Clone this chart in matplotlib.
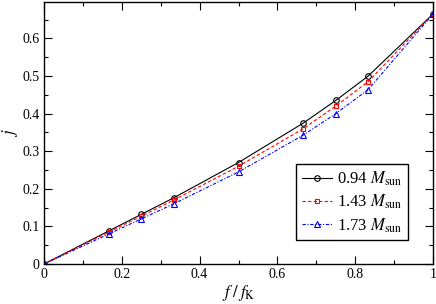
import matplotlib
matplotlib.use("Agg")
import matplotlib.pyplot as plt
from matplotlib.ticker import MultipleLocator, FuncFormatter

plt.rcParams['font.family'] = ['Liberation Serif', 'DejaVu Serif']
plt.rcParams['mathtext.fontset'] = 'stix'

x = [0, 1/6, 0.25, 1/3, 0.5, 2/3, 0.75, 5/6, 1.0]
j_094 = [0, 0.088, 0.132, 0.176, 0.270, 0.375, 0.435, 0.500, 0.665]
j_143 = [0, 0.085, 0.127, 0.170, 0.260, 0.360, 0.420, 0.485, 0.665]
j_173 = [0, 0.080, 0.120, 0.160, 0.245, 0.343, 0.400, 0.464, 0.665]
labels = ['0.94 $M_{\\rm sun}$', '1.43 $M_{\\rm sun}$', '1.73 $M_{\\rm sun}$']

fig = plt.figure(figsize=(4.36, 3.04), dpi=100)
ax = fig.add_axes([44/436, 1-264/304, 389/436, 262/304])

ax.plot(x, j_094, '-', color='black', lw=0.8, marker='o', ms=4, mfc='none', mec='black', mew=0.8, label=labels[0])
ax.plot(x, j_143, '--', color='#ff0000', lw=0.8, marker='s', ms=3.5, mfc='none', mec='#ff0000', mew=0.8, dashes=(3, 2), label=labels[1])
ax.plot(x, j_173, '-.', color='#0000ff', lw=0.8, marker='^', ms=4, mfc='none', mec='#0000ff', mew=0.8, dashes=(3, 1.5, 1, 1.5), label=labels[2])

ax.set_xlim(0, 1)
ax.set_ylim(0, 0.697)
ax.xaxis.set_major_locator(MultipleLocator(0.2))
ax.xaxis.set_minor_locator(MultipleLocator(0.1))
ax.yaxis.set_major_locator(MultipleLocator(0.1))
ax.yaxis.set_minor_locator(MultipleLocator(0.05))
fmt = FuncFormatter(lambda v, p: '0' if abs(v) < 1e-9 else ('1' if abs(v-1) < 1e-9 else f'{v:.1f}'))
ax.xaxis.set_major_formatter(fmt)
ax.yaxis.set_major_formatter(fmt)
ax.tick_params(which='both', direction='in', top=True, right=True, labelsize=10, width=0.8)
ax.tick_params(which='major', length=6, pad=3)
ax.tick_params(which='minor', length=3)
for s in ax.spines.values():
    s.set_linewidth(1.0)

ax.set_xlabel('$f\\;/\\;f_{\\rm K}$', fontsize=12, labelpad=1)
ax.set_ylabel('$j$', fontsize=12)
ax.yaxis.set_label_coords(-0.062, 0.5)

leg = ax.legend(loc='lower right', bbox_to_anchor=(0.935, 0.09), fontsize=12, fancybox=False,
                edgecolor='black', framealpha=1, handlelength=1.8, handletextpad=0.3,
                labelspacing=0.3, borderpad=0.35, borderaxespad=0)
leg.get_frame().set_linewidth(1.0)

fig.savefig('out.png', dpi=100)
